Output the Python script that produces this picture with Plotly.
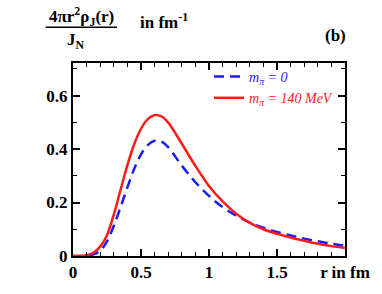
import plotly.graph_objects as go

r = [0, 0.05, 0.1, 0.15, 0.2, 0.25, 0.3, 0.35, 0.4, 0.45, 0.5, 0.55, 0.6, 0.65, 0.7,
     0.8, 0.9, 1.0, 1.1, 1.2, 1.3, 1.4, 1.5, 1.6, 1.7, 1.8, 1.9, 2.0]
rho_m0 = [0, 0, 0.001, 0.006, 0.02, 0.055, 0.113, 0.183, 0.257, 0.326, 0.38, 0.415, 0.431, 0.428, 0.407,
          0.338, 0.276, 0.225, 0.183, 0.151, 0.125, 0.106, 0.09, 0.077, 0.065, 0.055, 0.046, 0.038]
rho_m140 = [0, 0, 0.003, 0.012, 0.035, 0.078, 0.155, 0.248, 0.34, 0.418, 0.476, 0.512, 0.527, 0.522, 0.499,
            0.42, 0.337, 0.262, 0.204, 0.158, 0.124, 0.100, 0.083, 0.069, 0.057, 0.046, 0.037, 0.030]

x_tickvals = [0, 0.5, 1, 1.5, 2]
x_ticktext = ["0", "0.5", "1", "1.5", "r in fm"]
y_tickvals = [0, 0.2, 0.4, 0.6]
y_ticktext = ["0", "0.2", "0.4", "0.6"]

FONT = "Liberation Serif"

W, H = 382, 294
ml, mr, mt, mb = 73, 31, 63, 36
pw, ph = W - ml - mr, H - mt - mb


def px2paper(px, py):
    return (px - ml) / pw, (H - mb - py) / ph


fig = go.Figure()
fig.add_trace(go.Scatter(
    x=r, y=rho_m0, mode="lines", line=dict(color="#1a1aff", width=2.5, dash="10px,6px", shape="spline"),
    name="<span style='color:#1a1aff'><i>m<sub>π</sub> = 0</i></span>"))
fig.add_trace(go.Scatter(
    x=r, y=rho_m140, mode="lines", line=dict(color="#ff1a1a", width=2.5, shape="spline"),
    name="<span style='color:#ff1a1a'><i>m<sub>π</sub> = 140 MeV</i></span>"))

axis_common = dict(
    showline=True, linecolor="black", linewidth=2, mirror="allticks",
    ticks="inside", ticklen=7, tickwidth=1.5, tickcolor="black",
    showgrid=False, zeroline=False,
    tickfont=dict(family=FONT, size=17, color="black", weight="bold"),
)
fig.update_xaxes(range=[0, 2], tickmode="array", tickvals=x_tickvals, ticktext=x_ticktext,
                 minor=dict(dtick=0.1, ticks="inside", ticklen=4, tickwidth=1.2, tickcolor="black"),
                 **axis_common)
fig.update_yaxes(range=[0, 0.722], tickmode="array", tickvals=y_tickvals, ticktext=y_ticktext,
                 minor=dict(dtick=0.1, ticks="inside", ticklen=4, tickwidth=1.2, tickcolor="black"),
                 **axis_common)

fig.update_layout(
    width=W, height=H,
    margin=dict(l=ml, r=mr, t=mt, b=mb),
    paper_bgcolor="white", plot_bgcolor="white",
    font=dict(family=FONT, color="black"),
    showlegend=True,
    legend=dict(x=px2paper(212, 0)[0], y=px2paper(0, 61)[1], xanchor="left", yanchor="top",
                bgcolor="rgba(0,0,0,0)",
                font=dict(family=FONT, size=14), tracegroupgap=0, itemwidth=30),
)

texts = [
    ("<b>4πr<sup>2</sup>ρ<sub>J</sub>(r)</b>", 82, 16, 17),
    ("<b>J<sub>N</sub></b>", 76, 41, 17),
    ("<b>in fm<sup>-1</sup></b>", 166, 21, 17),
    ("<b>(b)</b>", 341, 35, 17),
]
for t, px, py, sz in texts:
    xp, yp = px2paper(px, py)
    fig.add_annotation(text=t, x=xp, y=yp, xref="paper", yref="paper", showarrow=False,
                       xanchor="center", yanchor="middle", font=dict(family=FONT, size=sz, color="black"))

x0, y0 = px2paper(45, 27)
x1, _ = px2paper(118, 27)
fig.add_shape(type="line", xref="paper", yref="paper", x0=x0, x1=x1, y0=y0, y1=y0,
              line=dict(color="black", width=1.5))

fig.write_html("out.html", config={"displayModeBar": False},
               post_script="document.body.style.margin='0';document.body.style.overflow='hidden';")
